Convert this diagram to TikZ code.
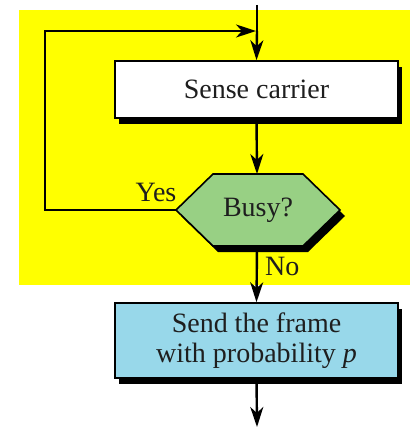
\documentclass[tikz,border=0pt]{standalone}
\usepackage{fontspec}
\setmainfont{Liberation Serif}
\usetikzlibrary{arrows.meta}
\definecolor{bg}{RGB}{255,255,0}
\definecolor{hexgreen}{RGB}{152,208,132}
\definecolor{boxblue}{RGB}{152,216,234}
\definecolor{txt}{RGB}{30,30,30}
\begin{document}
\begin{tikzpicture}[x=1pt,y=-1pt,
  line/.style={line width=2.4pt, draw=black},
  arr/.style={line, -{Stealth[length=20pt,width=13pt,inset=6pt]}},
  lbl/.style={font=\fontsize{28}{30}\selectfont, text=txt, inner sep=0pt},
  boxshape/.style={draw=black, line width=1.6pt, minimum width=283pt, minimum height=57pt,
    inner sep=0pt, font=\fontsize{28}{30}\selectfont, text=txt, align=center},
  shadowbox/.style={fill=black, minimum width=283pt, minimum height=57pt, inner sep=0pt},
]
\useasboundingbox (0,0) rectangle (410,427);
\fill[bg] (19,10) rectangle (410,285);

% Sense carrier box
\node[shadowbox] (senseshadow) at (260.5,95.5) {};
\node[boxshape, fill=white] (sense) at (256.5,89.5) {Sense carrier};

% Busy hexagon
\fill[black] (181,216) -- (218,180) -- (308,180) -- (345,216) -- (308,252) -- (218,252) -- cycle;
\filldraw[fill=hexgreen, draw=black, line width=1.6pt]
  (176,210) -- (213,174) -- (303,174) -- (340,210) -- (303,246) -- (213,246) -- cycle;
\node[lbl] (busy) at (258,210) {Busy?};
\coordinate (hexL) at (176,210);
\coordinate (hexT) at (257,174);
\coordinate (hexB) at (257,246);

% Send box
\node[shadowbox, minimum height=75pt] (sendshadow) at (260.5,346.5) {};
\node[boxshape, fill=boxblue, minimum height=75pt] (send) at (256.5,340.5)
  {Send the frame\\with probability \textit{p}};

% connectors
\coordinate (top) at (257,5);
\coordinate (join) at (257,31);
\coordinate (loopTL) at (45,31);
\coordinate (end) at (257,427);
\draw[line] (top) -- (join);
\draw[arr] (join) -- (sense.north);
\draw[arr, shorten >=1pt] (hexL) -| (loopTL) -- (join);
\draw[arr] (sense.south) -- (hexT);
\draw[arr] (hexB) -- (send.north);
\draw[arr] (send.south) -- (end);

% labels
\node[lbl, anchor=base] (yes) at (156,201) {Yes};
\node[lbl, anchor=base west] (no) at (265,275) {No};
\end{tikzpicture}
\end{document}
